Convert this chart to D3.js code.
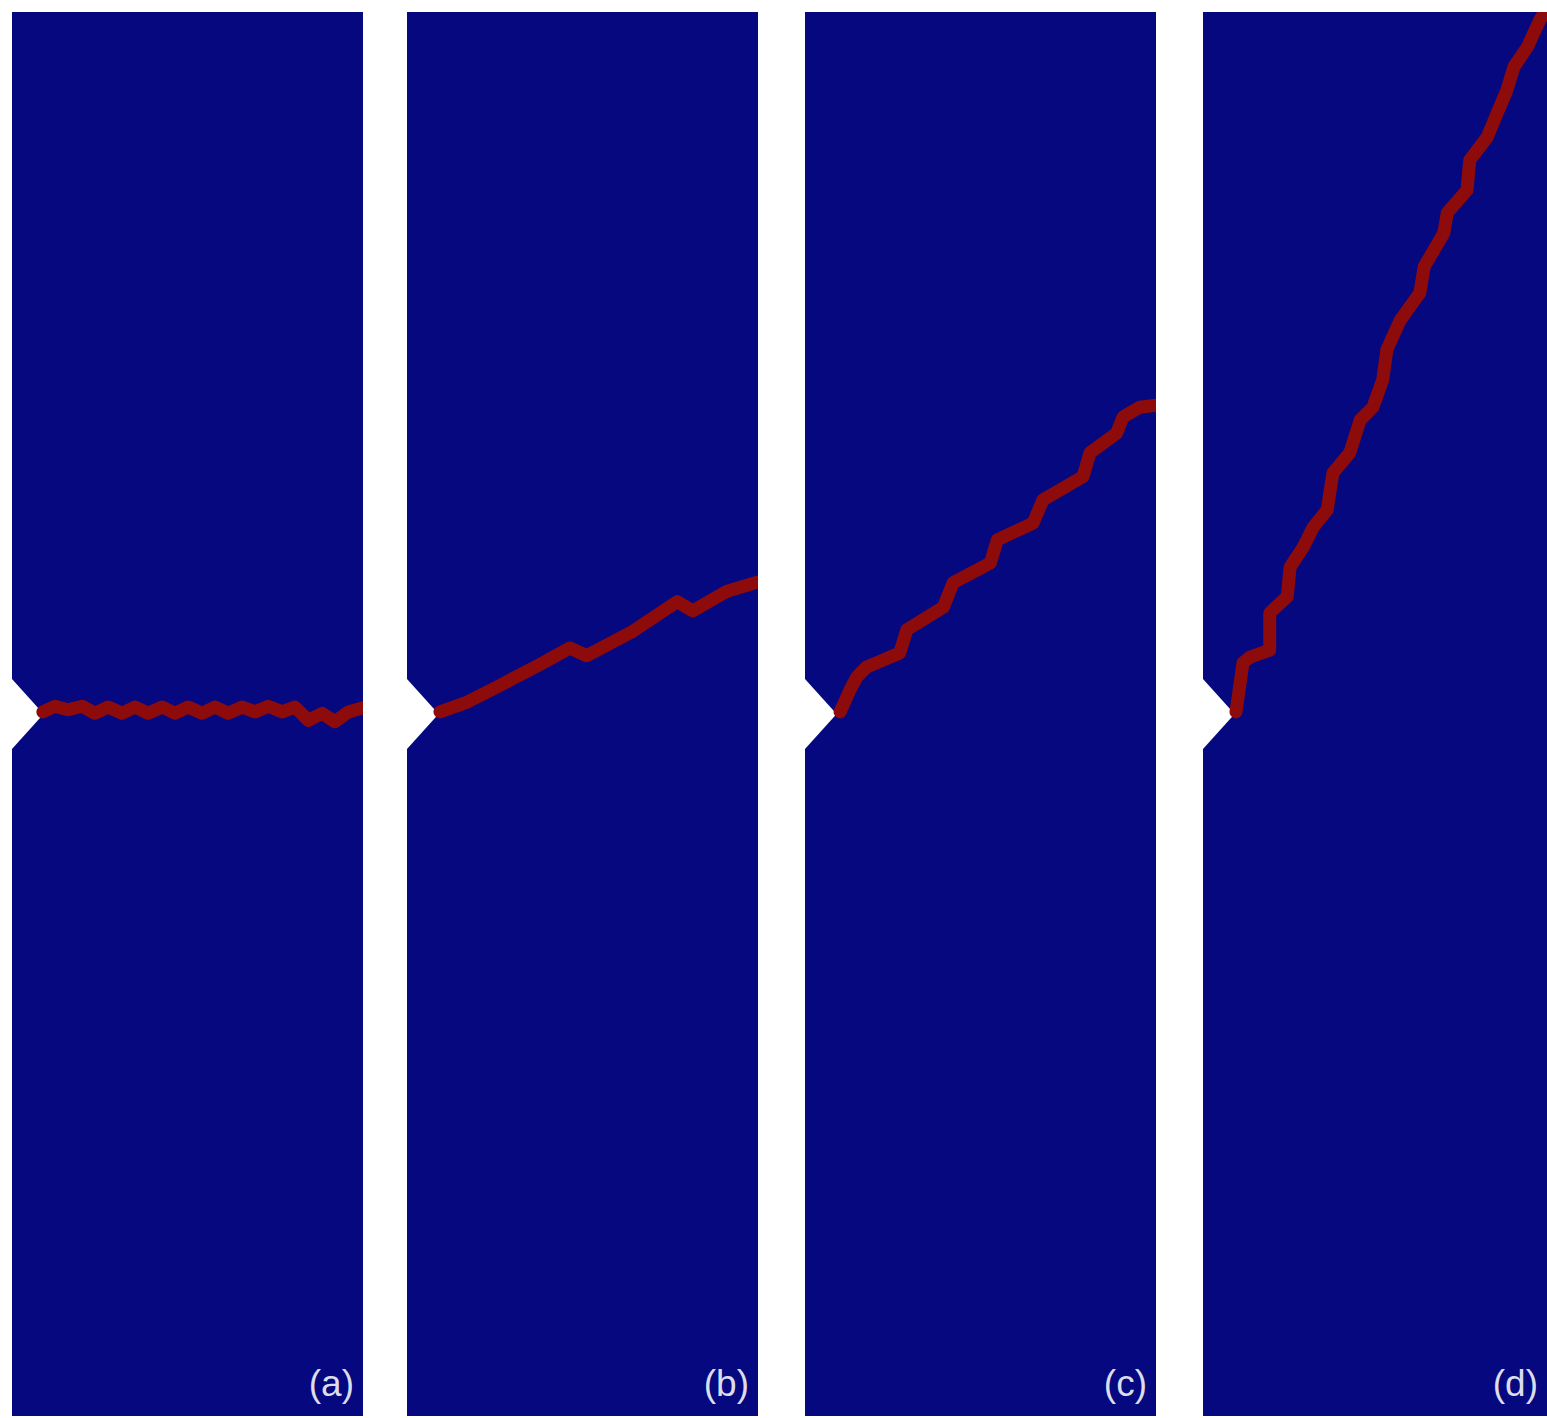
<!DOCTYPE html>
<html>
<head>
<meta charset="utf-8">
<script src="https://cdn.jsdelivr.net/npm/d3@7"></script>
<style>
  html, body { margin: 0; padding: 0; background: #ffffff; }
  svg { display: block; }
</style>
</head>
<body>
<svg id="chart" width="1547" height="1418"></svg>
<script>
// ---- data (specimen coordinates: width 0..50, height 0..200, notch at mid-height) ----
const panels = ["(a)", "(b)", "(c)", "(d)"];
const specimenWidth = 50;
const specimenHeight = 200;
const notchX = [0, 4.5, 0];
const notchY = [105, 100, 95];

const crackAX = [4.4, 6.1, 8.0, 10.0, 11.8, 13.7, 15.7, 17.5, 19.4, 21.4, 23.2, 25.1, 27.1, 28.9, 30.8, 32.8, 34.6, 36.5, 38.5, 40.3, 42.2, 44.2, 46.0, 47.9, 50];
const crackAY = [100.3, 101.1, 100.6, 101.1, 100.1, 101.0, 100.1, 101.0, 100.1, 101.0, 100.1, 101.0, 100.1, 101.0, 100.1, 101.0, 100.3, 101.1, 100.3, 101.0, 99.1, 100.1, 98.9, 100.3, 100.9];

const crackBX = [4.7, 8.6, 13.3, 19.0, 23.2, 25.6, 32.2, 38.5, 40.7, 45.6, 50];
const crackBY = [100.3, 101.7, 104.1, 107.1, 109.4, 108.3, 111.8, 116.0, 114.7, 117.5, 118.8];

const crackCX = [5.0, 6.4, 7.4, 8.8, 13.5, 14.5, 19.7, 21.1, 26.4, 27.4, 32.5, 33.9, 39.6, 40.6, 44.4, 45.3, 47.7, 50];
const crackCY = [100.3, 103.4, 105.3, 106.7, 108.7, 112.0, 115.2, 118.7, 121.5, 124.8, 127.2, 130.5, 133.8, 137.2, 140.0, 142.3, 143.7, 144.0];

const crackDX = [4.7, 5.7, 6.7, 9.5, 9.5, 12.0, 12.4, 14.3, 15.7, 17.7, 18.5, 20.9, 22.4, 24.2, 25.6, 26.2, 28.1, 30.9, 31.5, 34.3, 34.8, 37.6, 38.0, 40.5, 41.5, 43.3, 44.3, 46.2, 48.0, 48.7];
const crackDY = [100.3, 107.3, 108.1, 109.1, 114.4, 116.7, 120.9, 123.8, 126.6, 129.1, 134.3, 137.2, 141.9, 143.7, 147.6, 151.9, 156.1, 160.0, 163.7, 168.5, 171.4, 174.6, 178.9, 182.2, 184.6, 188.9, 192.2, 195.0, 198.9, 200];

const cracksX = [crackAX, crackBX, crackCX, crackDX];
const cracksY = [crackAY, crackBY, crackCY, crackDY];

// ---- layout ----
const svg = d3.select("#chart");
const panelLefts = [12, 407, 805, 1203];
const plotTop = 12, plotBottom = 1416;
const pxPerUnit = (plotBottom - plotTop) / specimenHeight;
const panelW = specimenWidth * pxPerUnit;

const navy = "#05087e";
const crackColor = "#8e0b0b";

panels.forEach((label, i) => {
  const x = d3.scaleLinear().domain([0, specimenWidth]).range([panelLefts[i], panelLefts[i] + panelW]);
  const y = d3.scaleLinear().domain([0, specimenHeight]).range([plotBottom, plotTop]);

  const g = svg.append("g");
  // specimen body
  g.append("rect")
    .attr("x", x(0)).attr("y", y(specimenHeight))
    .attr("width", x(specimenWidth) - x(0))
    .attr("height", y(0) - y(specimenHeight))
    .attr("fill", navy);

  // notch
  const notch = notchX.map((v, k) => [x(v), y(notchY[k])]);
  notch.unshift([x(0) - 1, y(notchY[0])]);
  notch.push([x(0) - 1, y(notchY[2])]);
  g.append("path")
    .attr("d", d3.line()(notch) + "Z")
    .attr("fill", "#ffffff");

  // crack
  const pts = cracksX[i].map((v, k) => [x(v), y(cracksY[i][k])]);
  const clipId = "clip" + i;
  g.append("clipPath").attr("id", clipId)
    .append("rect")
    .attr("x", x(0)).attr("y", y(specimenHeight))
    .attr("width", x(specimenWidth) - x(0))
    .attr("height", y(0) - y(specimenHeight));
  g.append("path")
    .attr("clip-path", "url(#" + clipId + ")")
    .attr("d", d3.line()(pts))
    .attr("fill", "none")
    .attr("stroke", crackColor)
    .attr("stroke-width", 13)
    .attr("stroke-linejoin", "round")
    .attr("stroke-linecap", "round");

  // label
  g.append("text")
    .attr("x", Math.min(x(specimenWidth), 1547) - 9)
    .attr("y", plotBottom - 20)
    .attr("text-anchor", "end")
    .attr("font-family", "Liberation Sans, Arial, sans-serif")
    .attr("font-size", 37)
    .attr("fill", "#dcdcec")
    .text(label);
});
</script>
</body>
</html>
